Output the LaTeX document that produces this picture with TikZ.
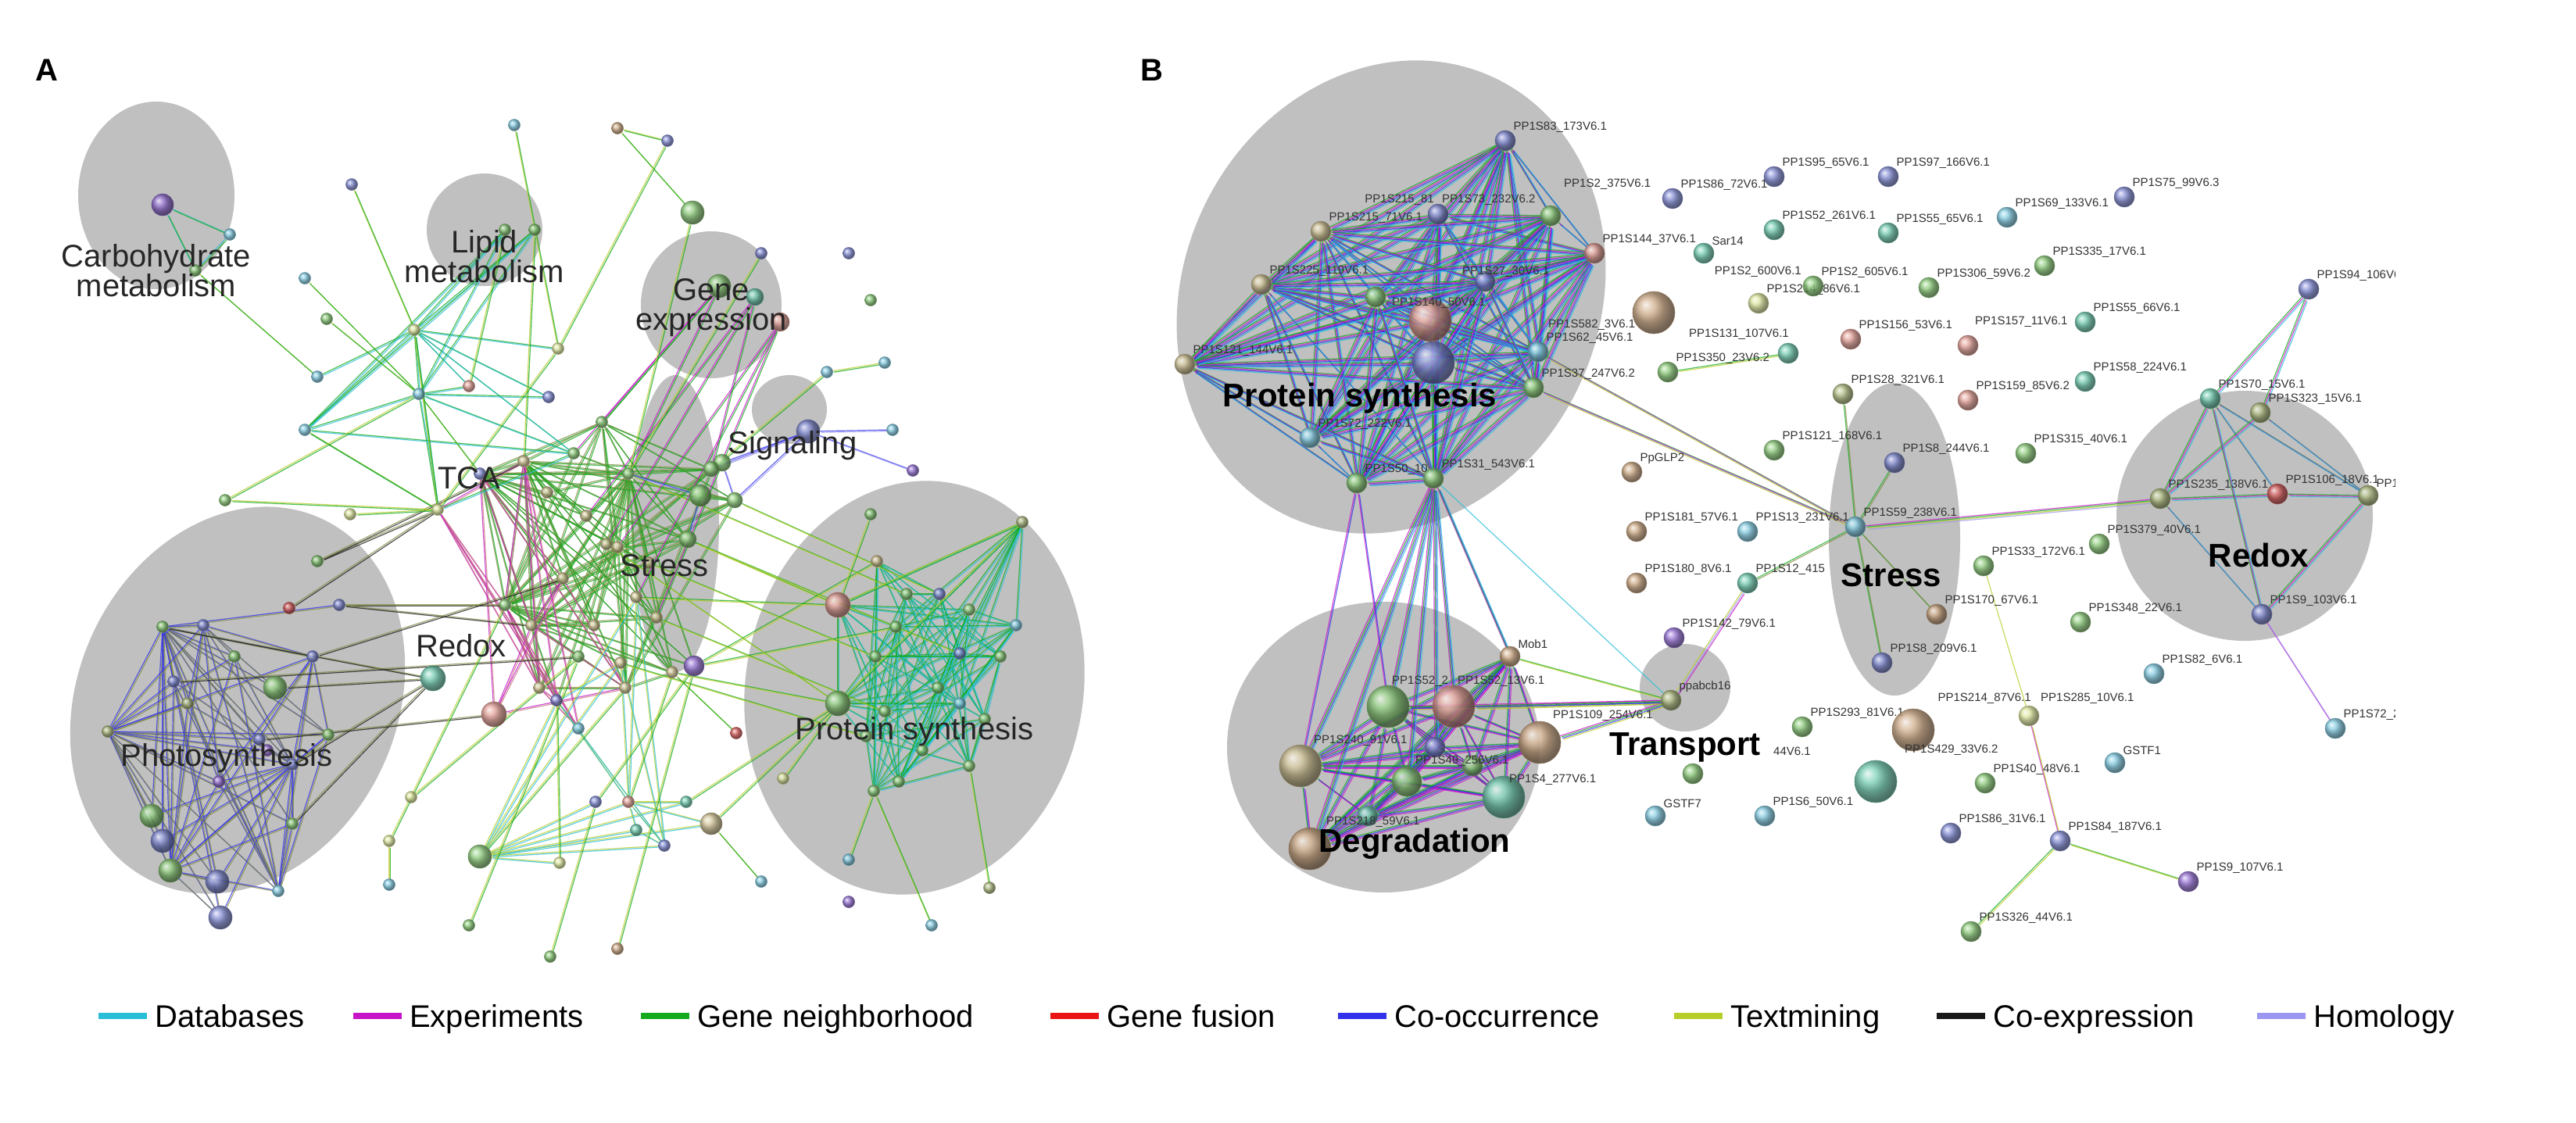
\documentclass[tikz,border=0pt]{standalone}
\usepackage{fontspec}
\setmainfont{Liberation Sans}
\usetikzlibrary{shapes.geometric}
\definecolor{gblob}{RGB}{192,192,192}
\definecolor{cDB}{RGB}{40,190,215}
\definecolor{cEX}{RGB}{200,20,200}
\definecolor{cGN}{RGB}{20,170,30}
\definecolor{cGF}{RGB}{235,20,20}
\definecolor{cCO}{RGB}{50,50,235}
\definecolor{cTM}{RGB}{185,205,40}
\definecolor{cCE}{RGB}{25,25,25}
\definecolor{cHO}{RGB}{155,150,240}
\definecolor{cPi}{RGB}{200,120,130}
\definecolor{cOl}{RGB}{130,140,70}
\definecolor{nBl}{RGB}{120,130,210}
\definecolor{nTe}{RGB}{100,200,170}
\definecolor{nGr}{RGB}{130,200,110}
\definecolor{nBe}{RGB}{205,190,140}
\definecolor{nPi}{RGB}{225,150,140}
\definecolor{nCy}{RGB}{120,200,225}
\definecolor{nPu}{RGB}{140,100,210}
\definecolor{nBr}{RGB}{200,160,120}
\definecolor{nYe}{RGB}{220,230,150}
\definecolor{nOl}{RGB}{170,185,120}
\definecolor{nRe}{RGB}{215,80,80}
\pgfdeclarelayer{blob}\pgfdeclarelayer{bg}
\pgfsetlayers{blob,bg,main}
\tikzset{
  nd/.style={circle,inner sep=0pt,minimum size=26pt,ball color=#1,draw=#1!70!black,line width=0.6pt,opacity=.85},
  an/.style={nd=#1,minimum size=15pt},
  big/.style={minimum size=54pt},
  lab/.style={font=\fontsize{15}{15}\selectfont,text=black!80,inner sep=1pt},
  L/.style={label={[lab]north east:#1}},
  TB/.style={font=\fontsize{42}{44}\selectfont\bfseries},
  TA/.style={font=\fontsize{40}{44}\selectfont,align=center,text=black!85},
  blob/.style={fill=gblob},
  leg/.style={font=\fontsize{40}{44}\selectfont,anchor=base west,inner sep=0pt},
}
\newcommand\E[3]{\foreach \cc [count=\ii] in {#3}{\draw[line width=1.2pt,\cc,opacity=.75,transform canvas={shift={({(\ii-1)*0.75},{(\ii-1)*0.75})}}] (#1)--(#2);}}
\newcommand\Clq[3]{\foreach \aa [count=\i] in {#1}{\foreach \bb [count=\j] in {#1}{\ifnum\j>\i\relax\pgfmathtruncatemacro\kk{mod(\i*7+\j*3,#3)}\ifnum\kk=0\relax\E{\aa}{\bb}{#2}\fi\fi}}}
\begin{document}
\begin{tikzpicture}[x=2pt,y=-2pt]
\useasboundingbox (0,0) rectangle (1648,718);
\begin{pgfonlayer}{blob}
\fill[white] (0,0) rectangle (1648,718);
\fill[blob] (100,125) ellipse [x radius=50,y radius=60];
\fill[blob] (310,147) ellipse [x radius=37,y radius=36];
\fill[blob] (455,195) ellipse [x radius=45,y radius=47];
\fill[blob] (505,262) ellipse [x radius=24,y radius=22];
\fill[blob] (432,335) ellipse [x radius=28,y radius=95];
\fill[blob,rotate around={-25:(152,448)}] (152,448) ellipse [x radius=102,y radius=128];
\fill[blob,rotate around={-10:(585,440)}] (585,440) ellipse [x radius=108,y radius=133];
\fill[blob,rotate around={-25:(890,190)}] (890,190) ellipse [x radius=133,y radius=155];
\fill[blob] (885,478) ellipse [x radius=100,y radius=93];
\fill[blob] (1078,440) ellipse [x radius=29,y radius=28];
\fill[blob] (1212,345) ellipse [x radius=42,y radius=100];
\fill[blob] (1436,330) ellipse [x radius=82,y radius=80];
\end{pgfonlayer}
% panel letters
\node[font=\fontsize{40}{40}\selectfont\bfseries] (LA) at (30,45) {A};
\node[font=\fontsize{40}{40}\selectfont\bfseries] (LB) at (737,45) {B};
% ================= PANEL A nodes =================
\foreach \n/\x/\y/\c/\s in {
a1/104/131/nPu/28,a2/147/150/nCy/15,a3/125/173/nGr/15,a4/329/80/nCy/15,a5/395/82/nBr/15,a6/427/90/nBl/15,a7/225/118/nBl/15,a8/443/136/nGr/30,
a9/323/147/nGr/15,a10/342/147/nGr/15,a11/195/178/nCy/15,a12/209/204/nGr/15,a13/265/211/nYe/15,a14/357/223/nYe/15,a15/203/241/nCy/15,a16/268/252/nCy/15,a17/300/247/nPi/15,a18/351/254/nBl/15,a19/195/275/nCy/15,a20/144/320/nGr/15,a21/224/329/nYe/15,a22/280/326/nYe/15,a23/367/290/nGr/15,a24/307/303/nBl/15,
a25/460/183/nGr/30,a26/483/190/nTe/22,a27/499/206/nPi/24,a28/487/162/nBl/15,a29/543/162/nBl/15,a30/557/192/nGr/15,a31/529/238/nCy/15,a32/566/232/nCy/15,
a33/517/276/nBl/30,a34/571/275/nCy/15,a35/584/301/nPu/15,a36/448/317/nGr/28,a37/462/296/nGr/22,a38/557/329/nGr/15,
a39/388/348/nBe/15,a40/402/303/nGr/15,a41/407/382/nBe/15,a42/444/426/nPu/26,a43/370/420/nGr/15,a44/323/387/nGr/15,a45/277/434/nTe/32,a46/316/457/nPi/32,a47/356/448/nBl/15,a48/397/424/nBe/15,a49/370/466/nCy/15,
a50/203/359/nGr/15,a51/185/389/nRe/15,a52/104/401/nGr/15,a53/217/387/nBl/15,a54/176/440/nGr/30,a55/69/468/nOl/15,a56/166/473/nBl/15,a57/171/480/nPu/15,a58/187/489/nBl/15,a59/97/522/nGr/30,a60/104/538/nBl/30,a61/109/557/nGr/30,a62/139/564/nBl/30,a63/141/587/nBl/30,a64/178/570/nCy/15,a65/187/527/nGr/15,a66/111/436/nBl/15,
a67/654/334/nOl/15,a68/561/359/nBe/15,a69/536/387/nPi/32,a70/601/380/nBl/15,a71/536/450/nGr/32,a72/614/418/nBl/15,a73/573/401/nGr/15,a74/554/471/nGr/15,a75/566/455/nGr/15,a76/559/506/nGr/15,a77/614/450/nCy/15,a78/633/568/nOl/15,a79/596/592/nCy/15,a80/543/550/nCy/15,a81/471/469/nRe/15,a82/501/498/nYe/15,
a83/263/510/nYe/15,a84/249/538/nYe/15,a85/307/548/nGr/30,a86/358/552/nYe/15,a87/381/513/nBl/15,a88/402/513/nPi/15,a89/439/513/nTe/15,a90/455/527/nBe/28,a91/425/541/nBl/15,a92/407/531/nTe/15,a93/249/566/nCy/15,a94/487/564/nCy/15,a95/543/577/nPu/15,a96/300/592/nGr/15,a97/395/607/nBr/15,a98/352/612/nGr/15,
c1/335/295/nBe/15,c2/350/315/nBe/15,c3/375/330/nBe/15,c4/395/350/nBe/15,c5/415/360/nBe/15,c6/360/370/nBe/15,c7/340/400/nBe/15,c8/380/400/nBe/15,c9/420/395/nBe/15,c10/400/440/nBe/15,c11/345/440/nBe/15,c12/430/430/nBe/15,c13/385/270/nGr/15,c14/440/345/nGr/22,c15/455/300/nGr/20,c16/470/320/nGr/20,
r1/580/380/nGr/15,r2/620/390/nGr/15,r3/640/420/nGr/15,r4/600/440/nGr/15,r5/630/460/nGr/15,r6/590/480/nGr/15,r7/560/420/nGr/15,r8/650/400/nCy/15,r9/620/490/nGr/15,r10/575/500/nGr/15,
g1/130/400/nBl/15,g2/150/420/nGr/15,g3/120/450/nOl/15,g4/200/420/nBl/15,g5/140/500/nPu/15,g6/210/470/nGr/15}
{\node[an=\c,minimum size=\s pt] (\n) at (\x,\y) {};}
% panel A edges
\begin{pgfonlayer}{bg}
\Clq{a22,a39,a40,a41,a43,a44,a48,a23,a24,a47,a42,c1,c2,c3,c4,c5,c6,c7,c8,c9,c10,c11,c12,c13,c14,c15,c16}{cOl,cGN}{3}
\Clq{a22,a24,c1,c7,c11,a46,a44,c6,a47,c10,a49}{cEX,cPi}{2}
\Clq{a50,a51,a52,a53,a54,a55,a56,a57,a58,a59,a60,a61,a62,a63,a64,a65,a66,g1,g2,g3,g4,g5,g6}{cCO,cOl}{3}
\Clq{a67,a68,a69,a70,a71,a72,a73,a74,a75,a76,a77,r1,r2,r3,r4,r5,r6,r7,r8,r9,r10}{cGN,cDB}{2}
\Clq{a11,a12,a13,a14,a15,a16,a17,a18,a19,a9,a10,a23,a22}{cGN,cDB}{3}
\Clq{a83,a84,a85,a86,a87,a88,a89,a90,a91,a92,a41,a47,a48}{cTM,cDB}{3}
\foreach \u/\v in {a50/a22,a53/a44,a51/a22,a54/a45,a58/a45,a52/a45,a53/c7,a50/c1,a65/a45,a56/a46,g4/c6,a66/a43}{\E{\u}{\v}{cOl,cCE}}
\foreach \u/\v in {a69/c14,a71/c12,a68/a42,a73/a42,a74/a48,a70/c16,a75/c9,r7/c5,a69/a41,a71/a39,a72/c14,r1/a40}{\E{\u}{\v}{cGN,cTM}}
\foreach \u/\v in {a25/c13,a25/a40,a26/c3,a27/c4,a27/a41,a26/a39,a25/a23,a27/c9,a26/c15}{\E{\u}{\v}{cEX,cGN}}
\foreach \u/\v in {a33/c15,a33/a37,a33/a34,a37/c16,a36/c14,a33/c16,a36/a40,a35/a33}{\E{\u}{\v}{cCO,cHO}}
\foreach \u/\v in {a1/a2,a2/a3,a1/a3}{\E{\u}{\v}{cDB,cGN}}
\foreach \u/\v in {a4/a14,a5/a8,a5/a6,a6/a14,a7/a13,a8/a40,a9/a17,a10/c1,a3/a15,a11/a16,a19/a22,a20/a16,a20/a22,a12/a16,a21/a22,a14/a22,a13/a22,a24/a16,a28/a40,a31/c15,a32/a31,a38/a69,a81/c12,a82/a71,a67/a69,a67/a71,a78/r9,a79/a76,a80/a76,a83/a43,a84/a44,a85/c10,a86/a47,a87/a42,a88/c12,a89/a71,a90/a71,a94/a90,a96/a43,a97/a42,a98/a87,a93/a84}{\E{\u}{\v}{cTM,cGN}}
\end{pgfonlayer}
% panel A labels
\node[TA] (tA1) at (100,173) {Carbohydrate\\[-6pt]metabolism};
\node[TA] (tA2) at (310,164) {Lipid\\[-6pt]metabolism};
\node[TA] (tA3) at (455,197) {Gene\\[-6pt]expression};
\node[TA] (tA4) at (507,285) {Signaling};
\node[TA] (tA5) at (300,306) {TCA};
\node[TA] (tA6) at (425,362) {Stress};
\node[TA] (tA7) at (295,413) {Redox};
\node[TA] (tA8) at (145,485) {Photosynthesis};
\node[TA] (tA9) at (585,468) {Protein synthesis};
% ================= PANEL B =================
\begin{scope}
\clip (720,0) rectangle (1532,640);
\node[nd=nBl,L={PP1S83\_173V6.1}] (p1) at (963,90) {};
\node[nd=nBl] (p2) at (920,137) {};
\node[nd=nGr] (p3) at (992,138) {};
\node[nd=nBe,L={PP1S215\_71V6.1}] (p4) at (845,148) {};
\node[nd=nPi,L={PP1S144\_37V6.1}] (p5) at (1020,162) {};
\node[nd=nBe,L={PP1S225\_119V6.1}] (p6) at (807,182) {};
\node[nd=nPi,big] (p7) at (915,205) {};
\node[nd=nBl,big] (p8) at (917,232) {};
\node[nd=nCy,L={PP1S62\_45V6.1}] (p9) at (984,225) {};
\node[nd=nGr,L={PP1S37\_247V6.2}] (p10) at (981,248) {};
\node[nd=nBe,L={PP1S121\_144V6.1}] (p11) at (758,233) {};
\node[nd=nCy,L={PP1S72\_222V6.1}] (p12) at (838,280) {};
\node[nd=nGr,L={PP1S50\_10}] (p13) at (868,309) {};
\node[nd=nGr,L={PP1S31\_543V6.1}] (p14) at (917,306) {};
\node[nd=nGr] (p15) at (880,190) {};
\node[nd=nBl] (p16) at (950,180) {};
\node[lab,anchor=south east] (l2) at (918,132) {PP1S215\_81};
\node[lab,anchor=south west] (l3) at (922,132) {PP1S73\_232V6.2};
\node[lab,anchor=south west] (l7) at (890,198) {PP1S140\_50V6.1};
\node[lab,anchor=south west] (l16) at (935,178) {PP1S27\_30V6.1};
\node[lab,anchor=south west] (l2b) at (1000,122) {PP1S2\_375V6.1};
\node[nd=nBl,L={PP1S86\_72V6.1}] (q1) at (1070,127) {};
\node[nd=nTe,L={Sar14}] (q2) at (1090,162) {};
\node[nd=nBr,big] (q3) at (1058,200) {};
\node[lab,anchor=south west] (l582) at (990,212) {PP1S582\_3V6.1};
\node[nd=nYe,L={PP1S214\_86V6.1}] (q4) at (1125,194) {};
\node[nd=nTe] (q5) at (1144,226) {};
\node[lab,anchor=south west] (l131) at (1080,218) {PP1S131\_107V6.1};
\node[nd=nGr,L={PP1S350\_23V6.2}] (q6) at (1067,238) {};
\node[nd=nBl,L={PP1S95\_65V6.1}] (s1) at (1135,113) {};
\node[nd=nBl,L={PP1S97\_166V6.1}] (s2) at (1208,113) {};
\node[nd=nCy,L={PP1S69\_133V6.1}] (s3) at (1284,139) {};
\node[nd=nBl,L={PP1S75\_99V6.3}] (s4) at (1359,126) {};
\node[nd=nTe,L={PP1S52\_261V6.1}] (s5) at (1135,147) {};
\node[nd=nTe,L={PP1S55\_65V6.1}] (s6) at (1208,149) {};
\node[nd=nGr,L={PP1S335\_17V6.1}] (s7) at (1308,170) {};
\node[nd=nGr,L={PP1S2\_605V6.1}] (s8) at (1160,183) {};
\node[nd=nGr,L={PP1S306\_59V6.2}] (s9) at (1234,184) {};
\node[lab,anchor=south east] (l600) at (1153,178) {PP1S2\_600V6.1};
\node[nd=nTe,L={PP1S55\_66V6.1}] (s10) at (1334,206) {};
\node[nd=nPi,L={PP1S156\_53V6.1}] (s11) at (1184,217) {};
\node[nd=nPi] (s12) at (1259,221) {};
\node[lab,anchor=south west] (l157) at (1263,210) {PP1S157\_11V6.1};
\node[nd=nTe,L={PP1S58\_224V6.1}] (s13) at (1334,244) {};
\node[nd=nOl,L={PP1S28\_321V6.1}] (s14) at (1179,252) {};
\node[nd=nPi,L={PP1S159\_85V6.2}] (s15) at (1259,256) {};
\node[nd=nGr,L={PP1S121\_168V6.1}] (s16) at (1135,288) {};
\node[nd=nBl,L={PP1S8\_244V6.1}] (s17) at (1212,296) {};
\node[nd=nGr,L={PP1S315\_40V6.1}] (s18) at (1296,290) {};
\node[nd=nCy,L={PP1S59\_238V6.1}] (h) at (1187,337) {};
\node[nd=nBr,L={PpGLP2}] (b1) at (1044,302) {};
\node[nd=nBr,L={PP1S181\_57V6.1}] (b2) at (1047,340) {};
\node[nd=nCy,L={PP1S13\_231V6.1}] (b3) at (1118,340) {};
\node[nd=nBr,L={PP1S180\_8V6.1}] (b4) at (1047,373) {};
\node[nd=nTe,L={PP1S12\_415}] (b5) at (1118,373) {};
\node[nd=nPu,L={PP1S142\_79V6.1}] (b6) at (1071,408) {};
\node[nd=nGr,L={PP1S33\_172V6.1}] (b7) at (1269,362) {};
\node[nd=nGr,L={PP1S379\_40V6.1}] (b8) at (1343,348) {};
\node[nd=nBr,L={PP1S170\_67V6.1}] (b9) at (1239,393) {};
\node[nd=nGr,L={PP1S348\_22V6.1}] (b10) at (1331,398) {};
\node[nd=nBl,L={PP1S8\_209V6.1}] (b11) at (1204,424) {};
\node[nd=nCy,L={PP1S82\_6V6.1}] (b12) at (1378,431) {};
\node[nd=nOl,L={PP1S235\_138V6.1}] (x1) at (1382,319) {};
\node[nd=nRe,L={PP1S106\_18V6.1}] (x2) at (1457,316) {};
\node[nd=nOl,L={PP1S20}] (x3) at (1515,317) {};
\node[nd=nTe,L={PP1S70\_15V6.1}] (x4) at (1414,255) {};
\node[nd=nOl,L={PP1S323\_15V6.1}] (x5) at (1446,264) {};
\node[nd=nBl,L={PP1S9\_103V6.1}] (x6) at (1447,393) {};
\node[nd=nBl,L={PP1S94\_106V6.1}] (x7) at (1477,185) {};
\node[nd=nCy,L={PP1S72\_282}] (x8) at (1494,466) {};
\node[nd=nGr,big] (d1) at (888,452) {};
\node[nd=nPi,big] (d2) at (930,452) {};
\node[nd=nBr,L={Mob1}] (d3) at (966,420) {};
\node[nd=nBr,big] (d4) at (985,475) {};
\node[nd=nBe,big] (d5) at (832,490) {};
\node[nd=nGr,minimum size=38pt] (d6) at (900,500) {};
\node[nd=nTe,big] (d8) at (962,510) {};
\node[nd=nBr,big] (d9) at (838,543) {};
\node[nd=nTe] (d10) at (875,522) {};
\node[nd=nGr] (d11) at (942,490) {};
\node[nd=nBl] (d12) at (918,478) {};
\node[lab,anchor=south west] (ld1) at (890,440) {PP1S52\_2};
\node[lab,anchor=south west] (ld2) at (932,440) {PP1S52\_13V6.1};
\node[lab,anchor=south west] (ld5) at (840,478) {PP1S240\_91V6.1};
\node[lab,anchor=south west] (ld6) at (905,491) {PP1S49\_256V6.1};
\node[lab,anchor=south west] (ld8) at (965,503) {PP1S4\_277V6.1};
\node[lab,anchor=south west] (ld9) at (848,530) {PP1S218\_59V6.1};
\node[nd=nOl,L={ppabcb16}] (t1) at (1069,448) {};
\node[lab,anchor=south east] (l109) at (1058,462) {PP1S109\_254V6.1};
\node[nd=nGr] (t2) at (1083,495) {};
\node[lab,anchor=south west] (l44) at (1134,484) {44V6.1};
\node[nd=nGr,L={PP1S293\_81V6.1}] (e1) at (1153,465) {};
\node[nd=nBr,big] (e2) at (1224,467) {};
\node[nd=nYe] (e3) at (1298,458) {};
\node[lab,anchor=south east] (l214) at (1300,451) {PP1S214\_87V6.1};
\node[lab,anchor=south west] (l285) at (1305,451) {PP1S285\_10V6.1};
\node[lab,anchor=south west] (l429) at (1218,484) {PP1S429\_33V6.2};
\node[nd=nTe,big] (e4) at (1200,500) {};
\node[nd=nGr,L={PP1S40\_48V6.1}] (e5) at (1270,501) {};
\node[nd=nCy,L={GSTF1}] (e6) at (1353,488) {};
\node[nd=nCy,L={GSTF7}] (e7) at (1059,522) {};
\node[nd=nCy,L={PP1S6\_50V6.1}] (e8) at (1129,522) {};
\node[nd=nBl,L={PP1S86\_31V6.1}] (e9) at (1248,533) {};
\node[nd=nBl,L={PP1S84\_187V6.1}] (e10) at (1318,538) {};
\node[nd=nPu,L={PP1S9\_107V6.1}] (e11) at (1400,564) {};
\node[nd=nGr,L={PP1S326\_44V6.1}] (e12) at (1261,596) {};
\end{scope}
\begin{pgfonlayer}{bg}
\begin{scope}
\clip (720,0) rectangle (1532,640);
\Clq{p1,p2,p3,p4,p5,p6,p7,p8,p9,p10,p11,p12,p13,p14,p15,p16}{cGN,cEX,cCO,cDB}{1}
\E{q6}{q5}{cGN,cTM}
\foreach \u/\v in {x7/x4,x7/x5,x4/x1,x4/x2,x4/x3,x5/x3,x5/x1,x1/x2,x2/x3,x1/x6,x3/x6,x4/x6}{\E{\u}{\v}{cGN,cEX,cDB}}
\E{x6}{x8}{cEX,cHO}
\Clq{d1,d2,d3,d4,d5,d6,d8,d9,d10,d11,d12}{cGN,cCO,cEX}{1}
\foreach \u in {d1,d2,d5,d9,d6,d3,d12}{\E{p14}{\u}{cEX,cGN,cCO,cDB}}
\foreach \u in {d5,d1}{\E{p13}{\u}{cEX,cCO}}
\foreach \u in {d2,d4,d1}{\E{t1}{\u}{cEX,cGN,cCO,cTM}}
\E{d3}{t1}{cGN,cTM}
\E{p14}{t1}{cDB}
\E{b5}{t1}{cTM,cHO,cEX}
\foreach \u in {p10,p9}{\E{\u}{h}{cGN,cEX,cHO,cTM}}
\E{h}{x1}{cEX,cGN,cTM,cHO}
\foreach \u in {s17,s14,b9,b11,b5}{\E{h}{\u}{cGN,cOl}}
\E{b7}{e3}{cTM}
\E{e3}{e10}{cEX,cTM}
\E{e10}{e11}{cGN,cTM}
\E{e10}{e12}{cGN,cTM}
\end{scope}
\end{pgfonlayer}
% B big labels
\node[TB] (tB1) at (870,255) {Protein synthesis};
\node[TB] (tB2) at (905,540) {Degradation};
\node[TB] (tB3) at (1078,478) {Transport};
\node[TB] (tB4) at (1210,368) {Stress};
\node[TB] (tB5) at (1445,355) {Redox};
% legend
\foreach \n/\x/\c/\t in {g1/63/cDB/Databases,g2/226/cEX/Experiments,g3/410/cGN/Gene neighborhood,g4/672/cGF/Gene fusion,g5/856/cCO/Co-occurrence,g6/1071/cTM/Textmining,g7/1239/cCE/Co-expression,g8/1444/cHO/Homology}
{\coordinate (\n s) at (\x,650); \coordinate (\n e) at (\x+31,650);
 \draw[\c,line width=8pt] (\n s) -- (\n e);
 \node[leg] (\n t) at (\x+36,657) {\t};}
\end{tikzpicture}
\end{document}
